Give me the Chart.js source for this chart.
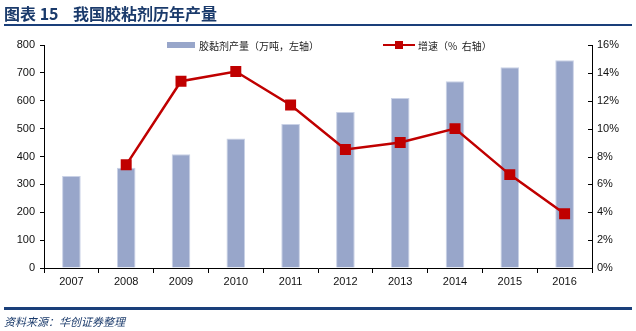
<!DOCTYPE html>
<html><head><meta charset="utf-8">
<script src="https://cdn.jsdelivr.net/npm/chart.js@4/dist/chart.umd.min.js"></script>
<style>
html,body{margin:0;padding:0;background:#fff;}
#wrap{position:relative;width:636px;height:331px;overflow:hidden;}
#c{position:absolute;left:0;top:0;}
.t{position:absolute;font-family:"Noto Sans CJK SC";white-space:nowrap;}
#title{left:4px;top:1px;font-size:16px;font-weight:bold;color:#1a3a6b;}
#l1{position:absolute;left:4px;top:24px;width:628px;height:2px;background:#1a3f7a;}
#l2{position:absolute;left:4px;top:307px;width:628px;height:3px;background:#1a3f7a;}
#src{left:4px;top:313px;font-size:11px;font-style:italic;color:#1a3a6b;}
.lg{position:absolute;font-family:"Noto Sans CJK SC";font-size:10px;color:#222;top:38px;white-space:nowrap;}
</style></head>
<body><div id="wrap">
<canvas id="c" width="636" height="331"></canvas>
<div id="title" class="t">图表 15&nbsp;&nbsp;&nbsp;&nbsp;我国胶粘剂历年产量</div>
<div id="l1"></div>
<div class="lg" style="left:167px;top:42px;width:28px;height:6px;background:#98a6ca;"></div>
<div class="lg" style="left:199px;">胶黏剂产量（万吨，左轴）</div>
<div class="lg" style="left:383px;top:44px;width:32px;height:2px;background:#c00000;"></div>
<div class="lg" style="left:395px;top:41px;width:8px;height:8px;background:#c00000;"></div>
<div class="lg" style="left:418px;">增速（%&nbsp;&nbsp;右轴）</div>
<div id="l2"></div>
<div id="src" class="t">资料来源：华创证券整理</div>
</div>
<script>
const years = ['2007','2008','2009','2010','2011','2012','2013','2014','2015','2016'];
const output = [330, 360, 408, 465, 517, 560, 610, 670, 720, 745];
const growth = [null, 7.4, 13.4, 14.1, 11.7, 8.5, 9.0, 10.0, 6.7, 3.9];
const leftTicks = [0,100,200,300,400,500,600,700,800];
const rightTicks = [0,2,4,6,8,10,12,14,16];

const innerTicks = {
  id:'innerTicks',
  afterDraw(chart){
    const s = chart.scales.y1, ctx = chart.ctx;
    ctx.save(); ctx.strokeStyle='#000'; ctx.lineWidth=1;
    rightTicks.forEach(v=>{
      const y = Math.round(s.getPixelForValue(v))+0.5;
      ctx.beginPath(); ctx.moveTo(s.left-4,y); ctx.lineTo(s.left,y); ctx.stroke();
    });
    ctx.restore();
  }
};

new Chart(document.getElementById('c'), {
  data:{
    labels: years,
    datasets:[
      {type:'line', data: growth, yAxisID:'y1', borderColor:'#c00000', backgroundColor:'#c00000',
       borderWidth:2.5, pointStyle:'rect', pointRadius:6, pointHoverRadius:6, tension:0, order:0},
      {type:'bar', data: output, yAxisID:'y', backgroundColor:'#98a6ca', borderColor:'#c9d1e6', borderWidth:{top:1,left:1,right:1,bottom:0},
       barPercentage:0.34, categoryPercentage:1, order:1}
    ]
  },
  options:{
    responsive:false, animation:false,
    layout:{padding:{top:45, left:0, right:0, bottom:0}},
    plugins:{legend:{display:false}, tooltip:{enabled:false}},
    scales:{
      x:{
        offset:true,
        grid:{display:true, offset:true, drawOnChartArea:false, tickLength:5, color:'#000'},
        border:{display:true, color:'#000'},
        ticks:{color:'#111', font:{family:'Liberation Sans', size:11}, padding:2, maxRotation:0},
        afterFit(s){ s.height = 63; }
      },
      y:{
        position:'left', min:0, max:800,
        afterBuildTicks(s){ s.ticks = leftTicks.map(v=>({value:v})); },
        grid:{display:true, drawOnChartArea:false, tickLength:4, color:'#000'},
        border:{display:true, color:'#000'},
        ticks:{color:'#111', font:{family:'Liberation Sans', size:11}, padding:5},
        afterFit(s){ s.width = 44; }
      },
      y1:{
        position:'right', min:0, max:16,
        afterBuildTicks(s){ s.ticks = rightTicks.map(v=>({value:v})); },
        grid:{display:false, drawOnChartArea:false, drawTicks:false},
        border:{display:true, color:'#000'},
        ticks:{color:'#111', font:{family:'Liberation Sans', size:11}, padding:5, callback:v=>v+'%'},
        afterFit(s){ s.width = 44; }
      }
    }
  },
  plugins:[innerTicks]
});
</script>
</body></html>
